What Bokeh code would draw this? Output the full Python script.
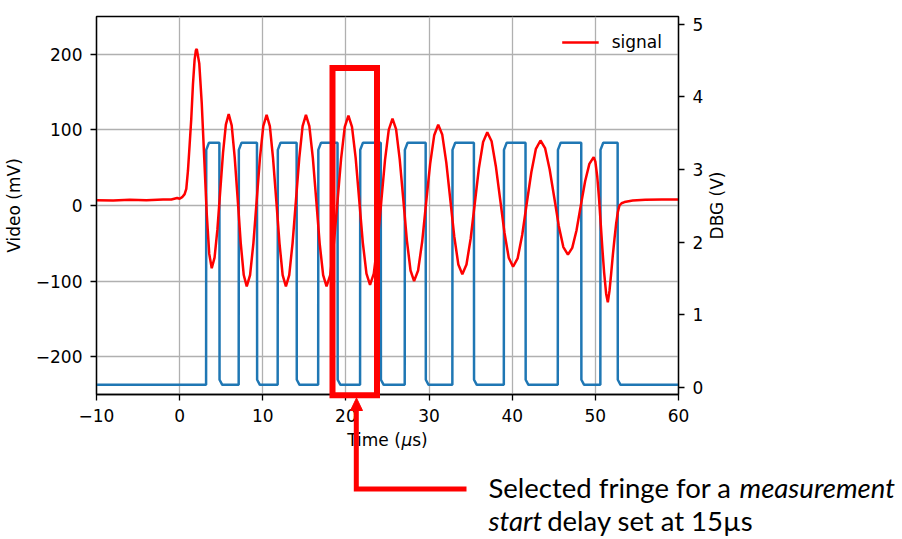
import math
from bokeh.plotting import figure
from bokeh.models import (Range1d, LinearAxis, FixedTicker, CustomJSTickFormatter,
                          Legend, LegendItem)
from bokeh.core.properties import value
from bokeh.embed import file_html
from bokeh.resources import INLINE

# ---------------- data ----------------
SIG_T = [-10, -8, -6, -4, -2, -1, -0.3, 0, 0.3, 0.6, 0.8, 1.0, 1.2, 1.4, 1.6, 1.8, 1.95, 2.06,
         2.36, 2.66, 2.96, 3.26, 3.56, 3.86,
         4.2, 4.54, 4.88, 5.22, 5.56, 5.9,
         6.26, 6.62, 6.99, 7.35, 7.71, 8.07,
         8.47, 8.87, 9.27, 9.66, 10.06, 10.46,
         10.85, 11.23, 11.62, 12.01, 12.39, 12.78,
         13.18, 13.58, 13.99, 14.39, 14.79, 15.19,
         15.6, 16.02, 16.43, 16.84, 17.26, 17.67,
         18.11, 18.55, 18.99, 19.42, 19.86, 20.3,
         20.73, 21.17, 21.6, 22.03, 22.47, 22.9,
         23.35, 23.8, 24.25, 24.7, 25.15, 25.6,
         26.03, 26.47, 26.9, 27.33, 27.77, 28.2,
         28.68, 29.17, 29.65, 30.13, 30.62, 31.1,
         31.58, 32.07, 32.55, 33.03, 33.52, 34.0,
         34.5, 35.0, 35.5, 36.0, 36.5, 37.0,
         37.52, 38.03, 38.55, 39.07, 39.58, 40.1,
         40.65, 41.2, 41.75, 42.3, 42.85, 43.4,
         43.95, 44.5, 45.05, 45.6, 46.15, 46.7,
         47.22, 47.73, 48.25, 48.77, 49.28, 49.8,
         50.0, 50.23, 50.45, 50.65, 50.85, 51.05, 51.3, 51.5,
         51.7, 51.9, 52.1, 52.3, 52.5, 52.7, 52.9, 53.15, 53.5, 54.5, 56, 58, 60]
SIG_V = [7, 6.5, 7.5, 7, 8, 8, 10, 9, 11, 15, 22, 46, 80, 115, 160, 193, 205, 207,
         188, 135, 62, -11, -64, -83,
         -69, -32, 19, 70, 107, 121,
         106, 64, 7, -50, -92, -107,
         -92, -50, 7, 63, 105, 120,
         105, 63, 7, -50, -92, -107,
         -92, -50, 7, 63, 105, 120,
         105, 63, 7, -50, -92, -107,
         -92, -50, 6, 62, 104, 119,
         104, 63, 7, -49, -90, -105,
         -90, -50, 5, 60, 100, 115,
         101, 61, 8, -46, -86, -100,
         -86, -48, 4, 55, 93, 107,
         94, 57, 8, -41, -78, -91,
         -78, -44, 3, 50, 84, 97,
         85, 52, 8, -36, -69, -81,
         -70, -39, 3, 44, 75, 86,
         76, 48, 11, -27, -55, -65,
         -56, -33, 0, 32, 55, 64,
         58, 38, 8, -25, -58, -88, -117, -128,
         -113, -90, -66, -44, -24, -9, 0, 3, 4.5, 6.5, 7.5, 8, 8]

DBG_RISE = [3.18, 7.10, 11.79, 16.66, 21.70, 27.07, 32.80, 38.99, 45.48, 50.60]
DBG_FALL = [4.78, 9.30, 14.07, 18.99, 24.19, 29.59, 35.39, 41.60, 48.30, 52.68]
DBG_LOW = 0.03
DBG_HIGH = 3.37

X_TICKS = [-10, 0, 10, 20, 30, 40, 50, 60]
Y_TICKS = [-200, -100, 0, 100, 200]
Y2_TICKS = [0, 1, 2, 3, 4, 5]

# step trace of the DBG pulses from the read edges and levels
dbg_t = [-10.0]
dbg_v = [DBG_LOW]
for r, f in zip(DBG_RISE, DBG_FALL):
    dbg_t += [r, r + 0.02, r + 0.35, f, f + 0.02, f + 0.35]
    dbg_v += [DBG_LOW, DBG_HIGH - 0.1, DBG_HIGH, DBG_HIGH, DBG_LOW + 0.07, DBG_LOW]
dbg_t.append(60.0)
dbg_v.append(DBG_LOW)

# ---------------- layout ----------------
W, H = 902, 539
FL, FR, FT, FB = 96, 678, 16, 394
XR = (-10, 60)
YR = (-250, 250)
Y2R = (-0.103, 5.11)


def tx(px):
    return XR[0] + (px - FL) * (XR[1] - XR[0]) / (FR - FL)


def vy(py):
    return YR[1] - (py - FT) * (YR[1] - YR[0]) / (FB - FT)


FONT = "DejaVu Sans"
FS = "17px"
RED = "#ff0000"
BLUE = "#1f77b4"

p = figure(width=W, height=H, x_range=Range1d(*XR), y_range=Range1d(*YR),
           output_backend="svg", toolbar_location=None,
           min_border_left=FL, min_border_right=W - FR,
           min_border_top=FT, min_border_bottom=H - FB)
p.background_fill_color = "white"
p.border_fill_color = "white"
p.outline_line_color = "black"
p.outline_line_width = 1.3
p.outline_line_alpha = 1.0

p.extra_y_ranges = {"dbg": Range1d(*Y2R)}
ax2 = LinearAxis(y_range_name="dbg")
p.add_layout(ax2, "right")

minus_fmt = "return (tick < 0 ? '\u2212' : '') + Math.abs(tick).toFixed(0);"
p.xaxis[0].ticker = FixedTicker(ticks=X_TICKS)
p.yaxis[0].ticker = FixedTicker(ticks=Y_TICKS)
ax2.ticker = FixedTicker(ticks=Y2_TICKS)
for ax in [p.xaxis[0], p.yaxis[0], ax2]:
    ax.formatter = CustomJSTickFormatter(code=minus_fmt)
    ax.axis_line_color = "black"
    ax.axis_line_width = 1.3
    ax.major_tick_line_color = "black"
    ax.major_tick_line_width = 1.3
    ax.major_tick_out = 6
    ax.major_tick_in = 0
    ax.minor_tick_line_color = None
    ax.major_label_text_font = FONT
    ax.major_label_text_font_size = FS
    ax.major_label_text_color = "black"
    ax.major_label_standoff = 8
    ax.axis_label_text_font = FONT
    ax.axis_label_text_font_size = FS
    ax.axis_label_text_font_style = "normal"
    ax.axis_label_text_color = "black"

p.yaxis[0].axis_label = "Video (mV)"
p.yaxis[0].axis_label_standoff = 9

p.xgrid.ticker = FixedTicker(ticks=X_TICKS)
p.ygrid.ticker = FixedTicker(ticks=Y_TICKS)
for g in [p.xgrid[0], p.ygrid[0]]:
    g.grid_line_color = "#b0b0b0"
    g.grid_line_width = 1.3

# data lines
p.line(dbg_t, dbg_v, line_color=BLUE, line_width=2.5, y_range_name="dbg")
r_sig = p.line(SIG_T, SIG_V, line_color=RED, line_width=2.5)

legend = Legend(items=[LegendItem(label="signal", renderers=[r_sig])],
                location="top_right", background_fill_alpha=0, border_line_color=None,
                glyph_width=37, glyph_height=10, label_height=10, label_standoff=13,
                label_text_font=FONT, label_text_font_size=FS, label_text_color="black",
                padding=8, margin=16, spacing=0)
p.add_layout(legend)


def add_text(px, py, text, font=FONT, size=FS, style="normal", angle=0.0,
             align="left", baseline="alphabetic"):
    p.text(x=[tx(px)], y=[vy(py)], text=[text], text_font=value(font),
           text_font_size=value(size), text_font_style=value(style), text_color="black",
           angle=angle, text_align=align, text_baseline=baseline, level="overlay")


# x axis label with italic mu
XL_Y = 439
add_text(346.7, XL_Y, "Time (")
add_text(400.9, XL_Y, "\u03bc", style="italic")
add_text(411.7, XL_Y, "s)")

# right axis label
add_text(716, 205, "DBG (V)", angle=math.pi / 2, align="center", baseline="middle")

# ---------------- annotation: selected fringe ----------------
RL, RR, RT, RB = 332, 376.5, 67.5, 394.7
p.patch([tx(RL), tx(RR), tx(RR), tx(RL)], [vy(RT), vy(RT), vy(RB), vy(RB)],
        fill_alpha=0, line_color=RED, line_width=6, line_join="miter", level="overlay")
AX, AY = 355.8, 488.5
p.line([tx(AX), tx(AX), tx(466)], [vy(408), vy(AY), vy(AY)], line_color=RED, line_width=5,
       line_join="miter", level="overlay")
p.patch([tx(356), tx(350), tx(362)], [vy(397.5), vy(410), vy(410)], fill_color=RED,
        line_color=RED, line_width=1, level="overlay")

TF = "Lato"
TS = "27.5px"
B1, B2 = 486.7, 520.3
add_text(488, B1, "Selected fringe for a ", font=TF, size=TS)
add_text(739, B1, "measurement", font=TF, size=TS, style="italic")
add_text(488, B2, "start", font=TF, size=TS, style="italic")
add_text(546.7, B2, "delay set at 15\u00b5s", font=TF, size=TS)

with open("out.html", "w", encoding="utf-8") as fh:
    fh.write(file_html(p, INLINE, "plot"))
